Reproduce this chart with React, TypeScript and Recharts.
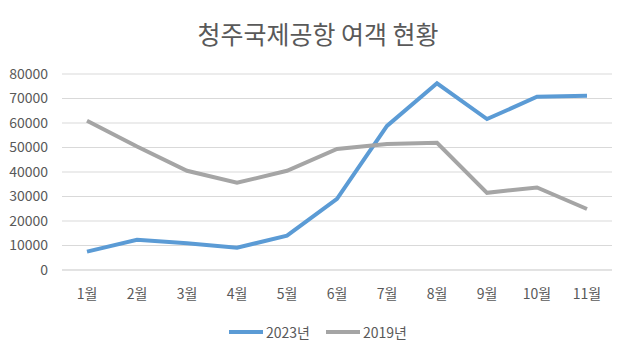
import React from 'react'
import { LineChart, Line, XAxis, YAxis, CartesianGrid } from 'recharts'

const months = ['1월', '2월', '3월', '4월', '5월', '6월', '7월', '8월', '9월', '10월', '11월']
const pax2023 = [7500, 12300, 10900, 9100, 14000, 29000, 58800, 76200, 61600, 70700, 71100]
const pax2019 = [60900, 50400, 40500, 35600, 40500, 49400, 51400, 51900, 31500, 33700, 24900]
const yTicks = [0, 10000, 20000, 30000, 40000, 50000, 60000, 70000, 80000]

const series = [
  { key: 'y2023', name: '2023년', color: '#5B9BD5' },
  { key: 'y2019', name: '2019년', color: '#A5A5A5' },
]

const data = months.map((m, i) => ({ month: m, y2023: pax2023[i], y2019: pax2019[i] }))

const FONT = '"Noto Sans CJK KR", "Noto Sans", sans-serif'
const TEXT = '#595959'

export default function App() {
  return (
    <div style={{ position: 'absolute', left: 0, top: 0, width: 636, height: 355, background: '#fff' }}>
      <div style={{ position: 'absolute', top: 15, width: 636, textAlign: 'center', fontFamily: FONT, fontSize: 25, color: TEXT }}>
        청주국제공항 여객 현황
      </div>
      <LineChart width={636} height={355} data={data} margin={{ top: 74, right: 24, bottom: 55, left: 0 }}>
        <CartesianGrid vertical={false} stroke="#d9d9d9" />
        <XAxis
          dataKey="month"
          height={30}
          axisLine={{ stroke: '#d9d9d9' }}
          tickLine={false}
          tickMargin={13}
          interval={0}
          padding={{ left: 25, right: 25 }}
          tick={{ fill: TEXT, fontSize: 14, fontFamily: FONT }}
        />
        <YAxis
          width={62}
          domain={[0, 80000]}
          ticks={yTicks}
          interval={0}
          axisLine={false}
          tickLine={false}
          tickMargin={8}
          tick={{ fill: TEXT, fontSize: 14, fontFamily: FONT }}
        />
        {series.map((s) => (
          <Line key={s.key} name={s.name} dataKey={s.key} stroke={s.color} strokeWidth={4} dot={false} isAnimationActive={false} />
        ))}
      </LineChart>
      <div style={{ position: 'absolute', top: 322, width: 636, display: 'flex', justifyContent: 'center', fontFamily: FONT, fontSize: 14, color: TEXT }}>
        {series.map((s) => (
          <div key={s.key} style={{ display: 'flex', alignItems: 'center', margin: '0 8px' }}>
            <span style={{ display: 'inline-block', width: 34, height: 4, background: s.color, marginRight: 3 }} />
            <span>{s.name}</span>
          </div>
        ))}
      </div>
    </div>
  )
}
